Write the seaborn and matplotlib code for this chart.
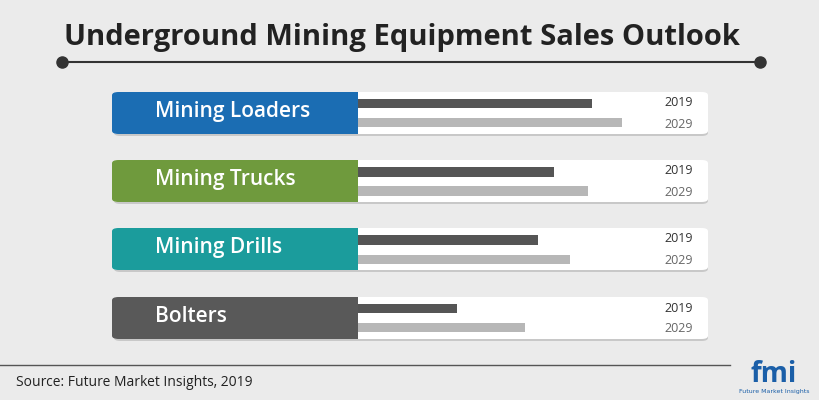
import matplotlib
matplotlib.use("Agg")
import matplotlib.pyplot as plt
from matplotlib.patches import FancyBboxPatch, Rectangle
import pandas as pd
import seaborn as sns

categories = ["Mining Loaders", "Mining Trucks", "Mining Drills", "Bolters"]
years = ["2019", "2029"]
sales_2019 = [234, 196, 180, 99]
sales_2029 = [264, 230, 212, 167]
panel_colors = ["#1b6db3", "#6f9a3d", "#1b9c9c", "#595959"]

df = pd.DataFrame({
    "category": categories * 2,
    "year": ["2019"] * 4 + ["2029"] * 4,
    "value": sales_2019 + sales_2029,
})

W, H = 820, 400
fig = plt.figure(figsize=(8.2, 4.0), dpi=100)
fig.patch.set_facecolor("#ebebeb")

def fx(px):
    return px / W

def fy(py):
    return 1 - py / H

# title and separator
fig.text(fx(402), fy(37), "Underground Mining Equipment Sales Outlook", ha="center", va="center",
         fontsize=21, fontweight="bold", color="#222222", family="Open Sans")
fig.add_artist(plt.Line2D([fx(62), fx(760)], [fy(62), fy(62)], color="#333333", lw=1.5))
fig.add_artist(plt.Line2D([fx(62), fx(760)], [fy(62), fy(62)], ls="none", marker="o",
                          ms=8, color="#333333"))

# row panels
centers = [113, 181, 249, 318]
for c, name, col in zip(centers, categories, panel_colors):
    top = c - 21
    fig.add_artist(FancyBboxPatch((fx(114), fy(top + 44)), fx(708 - 114), 42 / H,
                                  boxstyle="round,pad=0,rounding_size=0.008",
                                  fc="#c8c8c8", ec="none", transform=fig.transFigure, zorder=0))
    fig.add_artist(FancyBboxPatch((fx(112), fy(top + 42)), fx(708 - 112), 42 / H,
                                  boxstyle="round,pad=0,rounding_size=0.008",
                                  fc="white", ec="none", transform=fig.transFigure, zorder=1))
    fig.add_artist(FancyBboxPatch((fx(112), fy(top + 42)), fx(358 - 112), 42 / H,
                                  boxstyle="round,pad=0,rounding_size=0.008",
                                  fc=col, ec="none", transform=fig.transFigure, zorder=2))
    fig.add_artist(Rectangle((fx(340), fy(top + 42)), fx(18), 42 / H, fc=col, ec="none",
                             transform=fig.transFigure, zorder=2))
    fig.text(fx(155), fy(c - 2), name, ha="left", va="center", fontsize=15,
             fontweight="semibold", color="white", family="Open Sans", zorder=3)
    fig.text(fx(693), fy(c - 10), years[0], ha="right", va="center", fontsize=9,
             color="#333333", family="Open Sans", zorder=3)
    fig.text(fx(693), fy(c + 11), years[1], ha="right", va="center", fontsize=9,
             color="#666666", family="Open Sans", zorder=3)

# bars
span = 4 * 68.3
ax = fig.add_axes([fx(358), (H - (113 - 34 + span)) / H, fx(350), span / H])
ax.set_zorder(5)
ax.patch.set_alpha(0)
sns.barplot(data=df, y="category", x="value", hue="year", order=categories,
            palette={"2019": "#555555", "2029": "#b7b7b7"}, width=0.56, gap=0.5,
            legend=False, ax=ax, orient="h")
ax.set_xlim(0, 350)
ax.set_ylim(3.5, -0.5)
ax.axis("off")

# footer
fig.add_artist(plt.Line2D([fx(0), fx(730)], [fy(365), fy(365)], color="#555555", lw=1))
fig.text(fx(16), fy(382), "Source: Future Market Insights, 2019", ha="left", va="center",
         fontsize=10, color="#222222", family="Open Sans")
fig.text(fx(774), fy(374), "fmi", ha="center", va="center", fontsize=20,
         fontweight="bold", color="#1b5fa8", family="Open Sans")
fig.text(fx(774), fy(392), "Future Market Insights", ha="center", va="center",
         fontsize=4.5, color="#1b5fa8")

fig.savefig("out.png", dpi=100, facecolor=fig.get_facecolor())
